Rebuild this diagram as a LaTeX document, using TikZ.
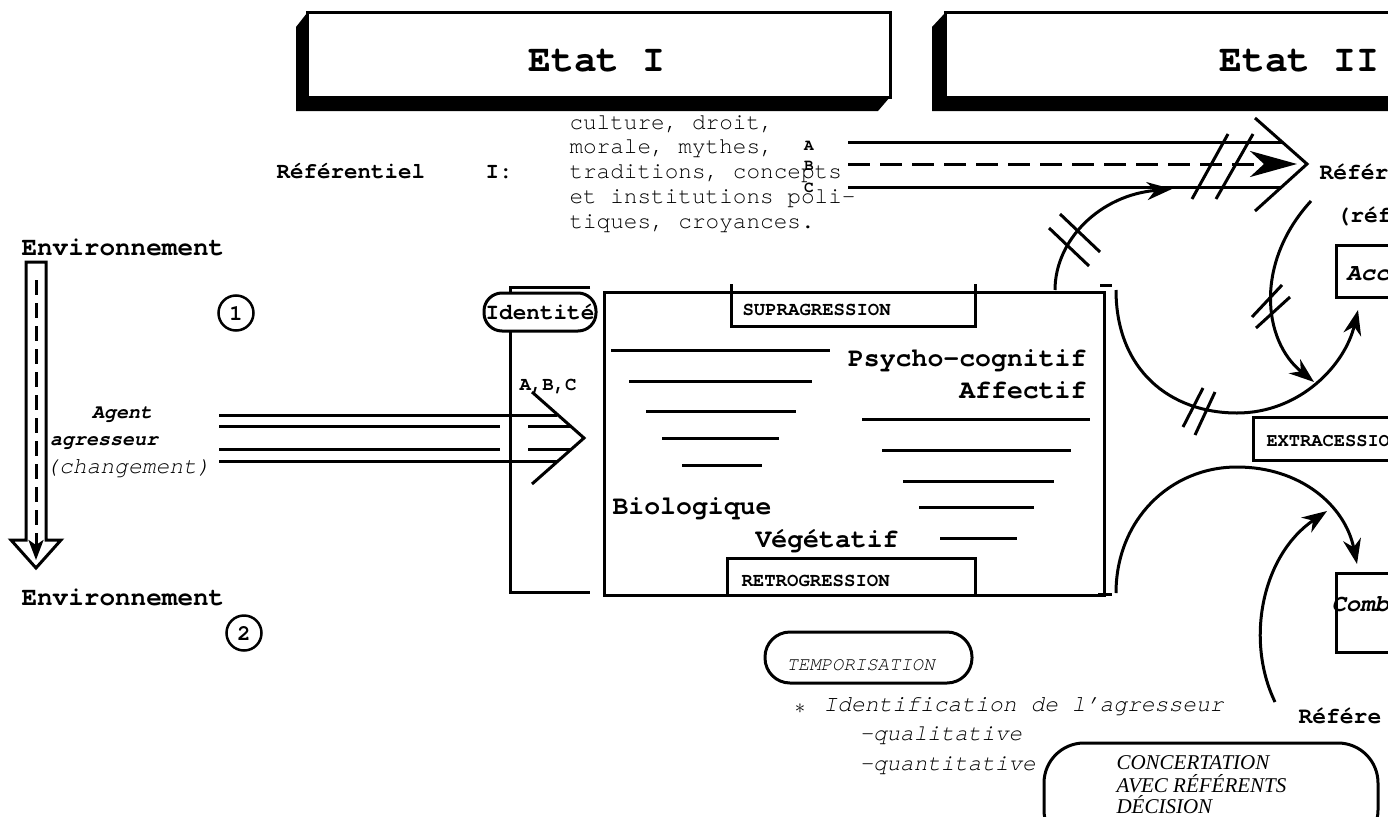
\documentclass[tikz,border=0pt]{standalone}
\usepackage{fontspec}
\setmainfont[Ligatures=NoCommon]{TeX Gyre Cursor}
\newfontfamily\tmsfont{Liberation Serif}
\usetikzlibrary{arrows.meta}
\newcommand\setsz[1]{\fontsize{#1pt}{#1pt}\selectfont}
\begin{document}
\begin{tikzpicture}[x=1pt,y=-1pt,line width=3pt,
  tx/.style={inner sep=0pt,anchor=base west},
  txc/.style={inner sep=0pt,anchor=base},
  txe/.style={inner sep=0pt,anchor=base east},
  arr/.style={-{Stealth[length=25pt,width=18pt,inset=8pt]}},
  hatch/.style={line width=3pt},
  bigf/.style={font=\setsz{26}\bfseries},
  midf/.style={font=\setsz{22.7}},
  supf/.style={font=\setsz{19}\bfseries}]
\useasboundingbox (0,0) rectangle (1388,816);
\clip (0,0) rectangle (1388,816);

% ---------- Etat boxes ----------
\fill (296,27) -- (307,13) -- (307,97) -- (890,97) -- (878,111) -- (296,111) -- cycle;
\draw[fill=white] (307,13) rectangle (890,97);
\node[tx,font=\setsz{38}\bfseries] (etat1) at (527,71) {Etat I};
\fill (932,27) -- (945,13) -- (945,97) -- (1400,97) -- (1400,111) -- (932,111) -- cycle;
\draw[fill=white] (945,13) rectangle (1400,97);
\node[tx,font=\setsz{38}\bfseries] (etat2) at (1218,71) {Etat II};

% ---------- Referentiel I ----------
\node[tx,font=\setsz{22.5}\bfseries] (ref1) at (275,178) {Référentiel};
\node[tx,font=\setsz{22.5}\bfseries] (ref1b) at (484,178) {I:};
\node[tx,midf] (l1) at (568,129) {culture, droit,};
\node[tx,midf] (l2) at (568,153) {morale, mythes,};
\node[tx,midf] (l3) at (568,178) {traditions, concepts};
\node[tx,midf] (l4) at (568,203) {et institutions poli-};
\node[tx,midf] (l5) at (568,228) {tiques, croyances.};
\node[txc,font=\setsz{16}\bfseries] (la) at (809,150) {A};
\node[txc,font=\setsz{16}\bfseries] (lb) at (809,170) {B};
\node[txc,font=\setsz{16}\bfseries] (lc) at (809,192) {C};

% top bundle
\coordinate (ta) at (848,142); \coordinate (tae) at (1282,142);
\coordinate (tb) at (848,164); \coordinate (tbe) at (1297,164);
\coordinate (tc) at (848,187); \coordinate (tce) at (1282,187);
\draw (ta) -- (tae);
\draw (tc) -- (tce);
\draw[dash pattern=on 22pt off 10pt,-{Stealth[length=47pt,width=26pt,inset=14pt]}] (tb) -- (tbe);
\draw[line join=miter] (1255,118) -- (1307,164) -- (1255,211);
\draw[hatch] (1228,134) -- (1192,199);
\draw[hatch] (1253,134) -- (1216,199);

% ---------- Left side ----------
\node[tx,bigf] (env1) at (20,255) {Environnement};
\node[draw,circle,minimum size=35pt,inner sep=0pt,line width=2.5pt,font=\setsz{22}\bfseries] (c1) at (236,313) {1};
\node[tx,bigf] (env2) at (20,605) {Environnement};
\node[draw,circle,minimum size=35pt,inner sep=0pt,line width=2.5pt,font=\setsz{22}\bfseries] (c2) at (244,633) {2};

\draw[line join=miter] (26,540) -- (26,262) -- (46,262) -- (46,540) -- (61,540) -- (36,568) -- (11,540) -- cycle;
\coordinate (dtop) at (36,280); \coordinate (dbot) at (36,560);
\draw[dash pattern=on 15pt off 8pt,-{Stealth[length=20pt,width=15pt,inset=5pt]}] (dtop) -- (dbot);

\node[txc,font=\setsz{20}\bfseries\itshape] (agent) at (122,418) {Agent};
\node[txc,font=\setsz{20}\bfseries\itshape] (agr) at (104,445) {agresseur};
\node[txc,font=\setsz{23}\itshape] (chg) at (128,473) {(changement)};

% left bundle
\draw (219,415) -- (557,415);
\draw (219,461) -- (557,461);
\draw (219,426) -- (500,426); \draw (528,426) -- (570,426);
\draw (219,449) -- (500,449); \draw (528,449) -- (570,449);
\draw[line join=miter] (532,392) -- (584,438) -- (532,484);

% bracket and identity
\draw (590,287) -- (510,287) -- (510,592) -- (590,592);
\node[draw,fill=white,rounded corners=18pt,minimum width=112pt,minimum height=38pt,inner sep=0pt] (identbox) at (540,312) {};
\node[txc,font=\setsz{22.7}\bfseries] (ident) at (540,319) {Identité};
\node[txc,font=\setsz{19}\bfseries] (abc) at (548,390) {A,B,C};

% ---------- Main box ----------
\draw (604,292) rectangle (1104,595);
\draw (731,284) -- (731,326) -- (975,326) -- (975,284);
\draw (727,595) -- (727,558) -- (975,558) -- (975,595);
\node[tx,supf] (supra) at (741,315) {SUPRAGRESSION};
\node[tx,supf] (retro) at (740,586) {RETROGRESSION};
\draw (1100,285) -- (1112,285);
\draw (1098,594) -- (1112,594);

\draw (611,350) -- (830,350);
\draw (629,381) -- (812,381);
\draw (646,411) -- (796,411);
\draw (662,438) -- (779,438);
\draw (682,465) -- (762,465);
\draw (862,419) -- (1090,419);
\draw (882,450) -- (1071,450);
\draw (903,481) -- (1054,481);
\draw (919,507) -- (1034,507);
\draw (940,538) -- (1017,538);

\node[txe,font=\setsz{26.5}\bfseries] (psy) at (1088,366) {Psycho-cognitif};
\node[txe,font=\setsz{26.5}\bfseries] (aff) at (1088,398) {Affectif};
\node[tx,font=\setsz{26.5}\bfseries] (bio) at (611,514) {Biologique};
\node[tx,font=\setsz{26.5}\bfseries] (veg) at (754,547) {Végétatif};

% ---------- Curves on the right ----------
\coordinate (c1s) at (1055,290); \coordinate (c1e) at (1172,189);
\draw[arr] (c1s) .. controls (1055,240) and (1100,195) .. (c1e);
\draw[hatch] (1060,214) -- (1100,252);
\draw[hatch] (1049,228) -- (1089,266);

\coordinate (c2s) at (1311,201); \coordinate (c2e) at (1314,382);
\draw[arr] (c2s) .. controls (1255,262) and (1262,340) .. (c2e);
\draw[hatch] (1282,285) -- (1252,317);
\draw[hatch] (1290,297) -- (1256,328);

\coordinate (c3s) at (1116,290); \coordinate (c3m) at (1237,413); \coordinate (c3e) at (1358,310);
\draw[arr] (c3s) .. controls (1116,370) and (1170,413) .. (c3m) .. controls (1300,413) and (1345,365) .. (c3e);
\draw[hatch] (1203,388) -- (1183,427);
\draw[hatch] (1215,392) -- (1195,435);

\coordinate (c4s) at (1116,593); \coordinate (c4m) at (1237,467); \coordinate (c4e) at (1357,564);
\draw[arr] (c4s) .. controls (1116,520) and (1170,467) .. (c4m) .. controls (1300,467) and (1345,505) .. (c4e);

\coordinate (c5s) at (1275,702); \coordinate (c5e) at (1327,511);
\draw[arr] (c5s) .. controls (1245,640) and (1262,555) .. (c5e);

% right-edge boxes and labels
\node[tx,font=\setsz{23}\bfseries] (ref2) at (1318,179) {Référ};
\node[tx,font=\setsz{23}\bfseries] (ref2b) at (1335,222) {(réf};
\draw (1336,245) rectangle (1400,297);
\node[tx,font=\setsz{24}\bfseries\itshape] (acc) at (1345,280) {Acc};
\draw (1253,417) rectangle (1400,460);
\node[tx,font=\setsz{18.7}\bfseries] (extra) at (1265,446) {EXTRACESSIO};
\draw (1336,573) rectangle (1400,652);
\node[tx,font=\setsz{24}\bfseries\itshape] (comb) at (1330,611) {Comb};
\node[tx,font=\setsz{23}\bfseries] (ref3) at (1297,723) {Référe};

% ---------- Bottom ----------
\draw[rounded corners=25pt] (765,632) rectangle (972,683);
\node[tx,font=\setsz{19}\itshape] (temp) at (785,670) {TEMPORISATION};
\node[inner sep=0pt,font=\setsz{20}] (star) at (800,709) {$\ast$};
\node[tx,font=\setsz{23}\itshape] (ident2) at (822,711) {Identification de l{\char"27}agresseur};
\node[tx,font=\setsz{22.6}\itshape] (qual) at (858,740) {-qualitative};
\node[tx,font=\setsz{22.6}\itshape] (quant) at (858,770) {-quantitative};
\draw[rounded corners=40pt] (1044,743) rectangle (1378,850);
\node[tx,font=\tmsfont\setsz{21}\itshape] (conc1) at (1115,769) {CONCERTATION};
\node[tx,font=\tmsfont\setsz{21}\itshape] (conc2) at (1115,792) {AVEC RÉFÉRENTS};
\node[tx,font=\tmsfont\setsz{21}\itshape] (conc3) at (1115,813) {DÉCISION};
\end{tikzpicture}
\end{document}
